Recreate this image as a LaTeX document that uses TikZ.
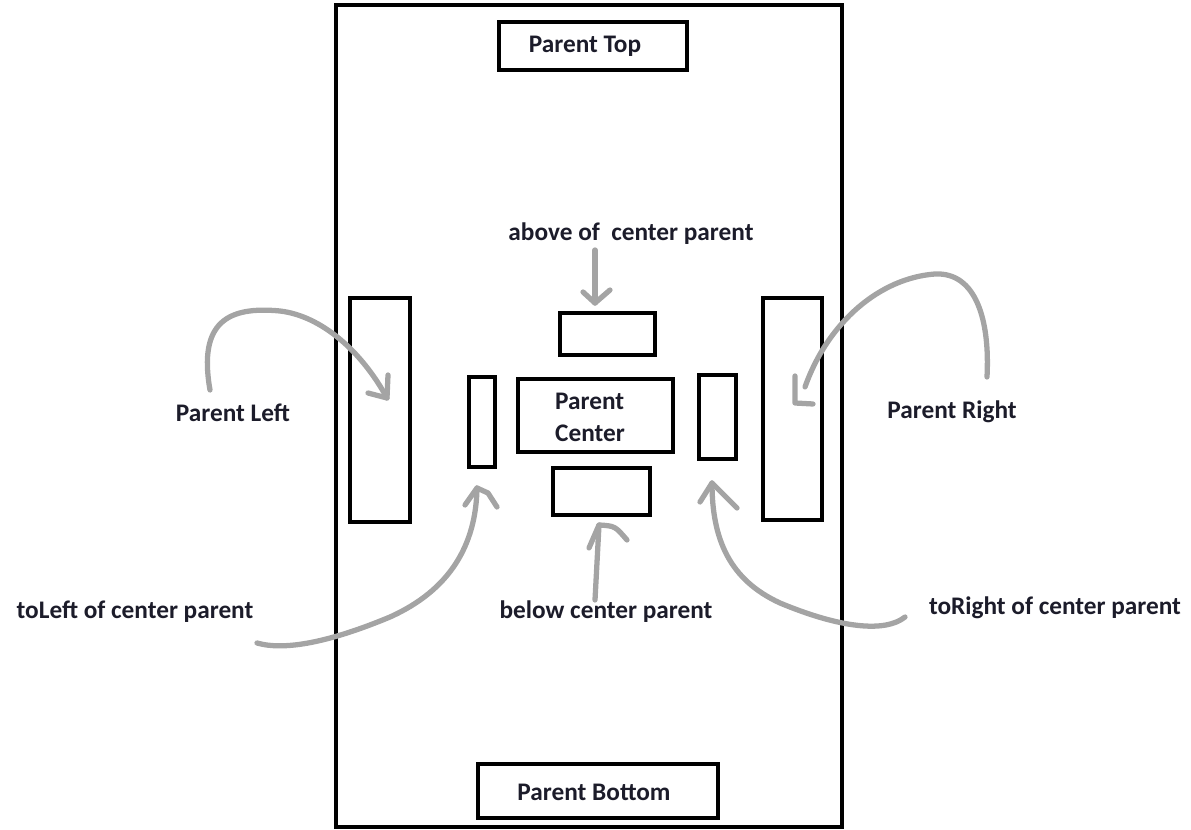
\documentclass[tikz,border=0pt]{standalone}
\usepackage{fontspec}
\setmainfont{Carlito}
\definecolor{inkc}{HTML}{1C1C2A}
\definecolor{pencil}{HTML}{A4A4A4}
\tikzset{
  boxc/.style={draw=black, line width=2.4pt, inner sep=0pt, fill=none},
  lbl/.style={font=\fontsize{14.4}{18}\selectfont\bfseries, text=inkc, inner sep=0pt},
  sketch/.style={draw=pencil, line width=3pt, line cap=round, line join=round}
}
\begin{document}
\begin{tikzpicture}[x=0.02cm,y=-0.02cm]
\useasboundingbox (0,0) rectangle (1191,830);
% outer parent
\node[boxc, minimum width=10.12cm, minimum height=16.44cm] (outer) at (589,416) {};
% boxes
\node[boxc, minimum width=3.76cm, minimum height=0.96cm] (top) at (593,46) {};
\node[lbl] (ttop) at (585,46) {Parent Top};
\node[boxc, minimum width=4.8cm, minimum height=1.08cm] (bottom) at (598,791) {};
\node[lbl] (tbottom) at (594,792) {Parent Bottom};
\node[boxc, minimum width=1.2cm, minimum height=4.48cm] (pleft) at (380,410) {};
\node[boxc, minimum width=1.18cm, minimum height=4.44cm] (pright) at (792.5,409) {};
\node[boxc, minimum width=0.52cm, minimum height=1.8cm] (sleft) at (482,422) {};
\node[boxc, minimum width=0.74cm, minimum height=1.68cm] (sright) at (717.5,417) {};
\node[boxc, minimum width=1.9cm, minimum height=0.84cm] (above) at (607.5,334) {};
\node[boxc, minimum width=3.1cm, minimum height=1.46cm] (center) at (595.5,415.5) {};
\node[lbl, align=left, font=\fontsize{14.4}{18.2}\selectfont\bfseries] (tcenter) at (590,417) {Parent\\Center};
\node[boxc, minimum width=1.94cm, minimum height=0.94cm] (below) at (601.5,491.5) {};
% labels
\node[lbl] (labove) at (631,234) {above of\ \ center parent};
\node[lbl] (lpleft) at (233,413) {Parent Left};
\node[lbl] (lpright) at (952,412) {Parent Right};
\node[lbl] (ltoleft) at (135,612) {toLeft of center parent};
\node[lbl] (lbelow) at (606,612) {below center parent};
\node[lbl] (ltoright) at (1055,608) {toRight of center parent};
% arrow end coordinates
\coordinate (a-s) at (595,250);
\coordinate (a-t) at (595,303);
\coordinate (pl-s) at (210,390);
\coordinate (pl-t) at (387,398);
\coordinate (pr-s) at (987,377);
\coordinate (pr-t) at (805,387);
\coordinate (tl-s) at (257,643);
\coordinate (tl-t) at (477,488);
\coordinate (tr-s) at (905,617);
\coordinate (tr-t) at (712,483);
\coordinate (b-s) at (595,600);
\coordinate (b-t) at (599,525);
% above arrow
\draw[sketch] (a-s) -- (a-t);
\draw[sketch] (583,292) -- (a-t) -- (610,290);
% parent left arrow
\draw[sketch] (pl-s) .. controls (198,322) and (228,306) .. (280,311)
  .. controls (322,316) and (362,352) .. (pl-t);
\draw[sketch] (368,393) -- (pl-t) -- (388,375);
% parent right arrow
\draw[sketch] (pr-s) .. controls (990,320) and (976,272) .. (935,274)
  .. controls (880,278) and (828,322) .. (pr-t);
\draw[sketch] (795,376) -- (795,403) -- (813,404);
% toLeft arrow
\draw[sketch] (tl-s) .. controls (285,651) and (330,642) .. (390,617)
  .. controls (450,590) and (476,545) .. (tl-t);
\draw[sketch] (465,505) -- (tl-t) -- (488,493) -- (497,507);
% toRight arrow
\draw[sketch] (tr-s) .. controls (885,633) and (840,628) .. (780,603)
  .. controls (730,580) and (712,540) .. (tr-t);
\draw[sketch] (700,502) -- (tr-t) -- (737,508);
% below arrow
\draw[sketch] (b-s) -- (b-t);
\draw[sketch] (589,548) -- (b-t) .. controls (615,526) .. (627,540);
\end{tikzpicture}
\end{document}
